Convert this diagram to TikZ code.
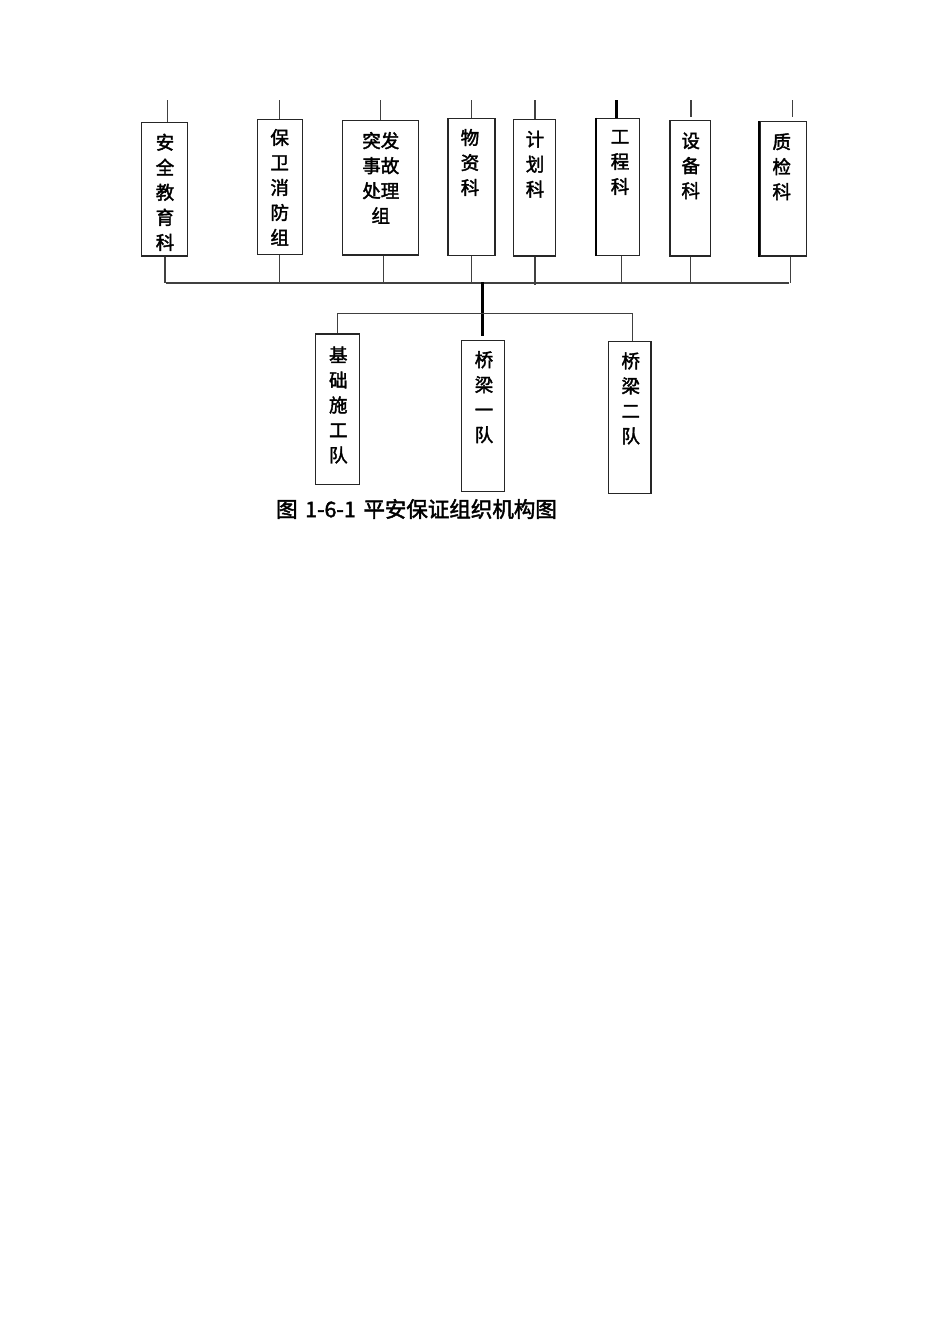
\documentclass[tikz,border=0pt]{standalone}
\usepackage{fontspec}
\setmainfont{Noto Sans CJK SC}
\newfontfamily\heifont[FakeBold=2]{Noto Sans CJK SC}
\begin{document}
\begin{tikzpicture}[x=1pt,y=-1pt,
  box/.style={draw=black!85, line width=1.3pt, inner sep=0pt},
  conn/.style={draw=black!75, line width=1.2pt},
  mainline/.style={draw=black, line width=2.8pt},
  lbl/.style={inner sep=0pt, align=center, font=\heifont\fontsize{18.5}{25}\selectfont},
  captext/.style={inner sep=0pt, font=\heifont\fontsize{21.5}{24}\selectfont}]
\useasboundingbox[fill=white] (0,0) rectangle (950,1344);

% top boxes
\node[box, minimum width=45.6pt, minimum height=133.7pt] (b1) at (164.5,189.2) {};
\node[box, minimum width=45pt,   minimum height=135pt]   (b2) at (279.8,186.8) {};
\node[box, minimum width=75.6pt, minimum height=134.3pt] (b3) at (380.5,187.8) {};
\node[box, minimum width=47pt,   minimum height=137.4pt] (b4) at (471.5,187) {};
\node[box, minimum width=42.4pt, minimum height=136.7pt] (b5) at (534.5,187.7) {};
\node[box, minimum width=42.6pt, minimum height=137.4pt] (b6) at (618,187) {};
\node[box, minimum width=40.7pt, minimum height=135.3pt] (b7) at (690.3,188.3) {};
\node[box, minimum width=46.7pt, minimum height=134.3pt] (b8) at (783.3,188.8) {};
% thicker left edges
\draw[line width=2.6pt] (b6.north west) -- (b6.south west);
\draw[line width=2.2pt] (b8.north west) -- (b8.south west);

% bottom boxes
\node[box, minimum width=43.6pt, minimum height=150.3pt] (c1) at (337.5,409.2) {};
\node[box, minimum width=43pt,   minimum height=151pt]   (c2) at (482.8,416.2) {};
\node[box, minimum width=42.7pt, minimum height=151.6pt] (c3) at (629.7,417.5) {};

% labels
\node[lbl] (l1) at (165,192.3) {安\\全\\教\\育\\科};
\node[lbl] (l2) at (279.7,187.3) {保\\卫\\消\\防\\组};
\node[lbl] (l3) at (380.8,177.9) {突发\\事故\\处理\\组};
\node[lbl] (l4) at (470,162.5) {物\\资\\科};
\node[lbl] (l5) at (535,164.2) {计\\划\\科};
\node[lbl] (l6) at (620,162.5) {工\\程\\科};
\node[lbl] (l7) at (690.7,165.8) {设\\备\\科};
\node[lbl] (l8) at (781.7,166.7) {质\\检\\科};
\node[lbl] (l9) at (338.3,405) {基\\础\\施\\工\\队};
\node[lbl] (l10) at (484,397.2) {桥\\梁\\一\\队};
\node[lbl] (l11) at (630.7,398.4) {桥\\梁\\二\\队};

% caption
\node[captext] (caption) at (416.5,509) {图\hspace{0.35em}1-6-1\hspace{0.35em}平安保证组织机构图};

% top free ends
\coordinate (t1) at (167.7,100);
\coordinate (t2) at (279.7,100);
\coordinate (t3) at (380.7,100);
\coordinate (t4) at (471.7,100);
\coordinate (t5) at (535,100);
\coordinate (t6) at (616.7,100);
\coordinate (t7) at (691,100);
\coordinate (t8) at (792.3,100);
\draw[conn] (t1) -- (t1 |- b1.north);
\draw[conn] (t2) -- (t2 |- b2.north);
\draw[conn] (t3) -- (t3 |- b3.north);
\draw[conn] (t4) -- (t4 |- b4.north);
\draw[conn] (t5) -- (t5 |- b5.north);
\draw[mainline] (t6) -- (t6 |- b6.north);
\draw[conn] (t7) -- (691,116.7);
\draw[conn] (t8) -- (792.3,116.7);

% bus
\coordinate (busL) at (165.7,283);
\coordinate (busR) at (789.3,283);
\draw[conn] (busL) -- (busR);
\coordinate (d1) at (165,283);
\coordinate (d2) at (279.7,283);
\coordinate (d3) at (383.3,283);
\coordinate (d4) at (471.7,283);
\coordinate (d5) at (535,285);
\coordinate (d6) at (621.7,283);
\coordinate (d7) at (690.7,283);
\coordinate (d8) at (790.7,283);
\draw[conn] (b1.south -| d1) -- (d1);
\draw[conn] (b2.south -| d2) -- (d2);
\draw[conn] (b3.south -| d3) -- (d3);
\draw[conn] (b4.south -| d4) -- (d4);
\draw[conn] (b5.south -| d5) -- (d5);
\draw[conn] (b6.south -| d6) -- (d6);
\draw[conn] (b7.south -| d7) -- (d7);
\draw[conn] (b8.south -| d8) -- (d8);

% main stem and lower bus
\coordinate (stemTop) at (482.3,282);
\coordinate (stemBot) at (482.3,336);
\draw[mainline] (stemTop) -- (stemBot);
\coordinate (lbL) at (337.3,313.3);
\coordinate (lbR) at (632.3,313.3);
\draw[conn] (lbL) -- (lbR);
\draw[conn] (lbL) -- (lbL |- c1.north);
\draw[conn] (lbR) -- (lbR |- c3.north);
\end{tikzpicture}
\end{document}
